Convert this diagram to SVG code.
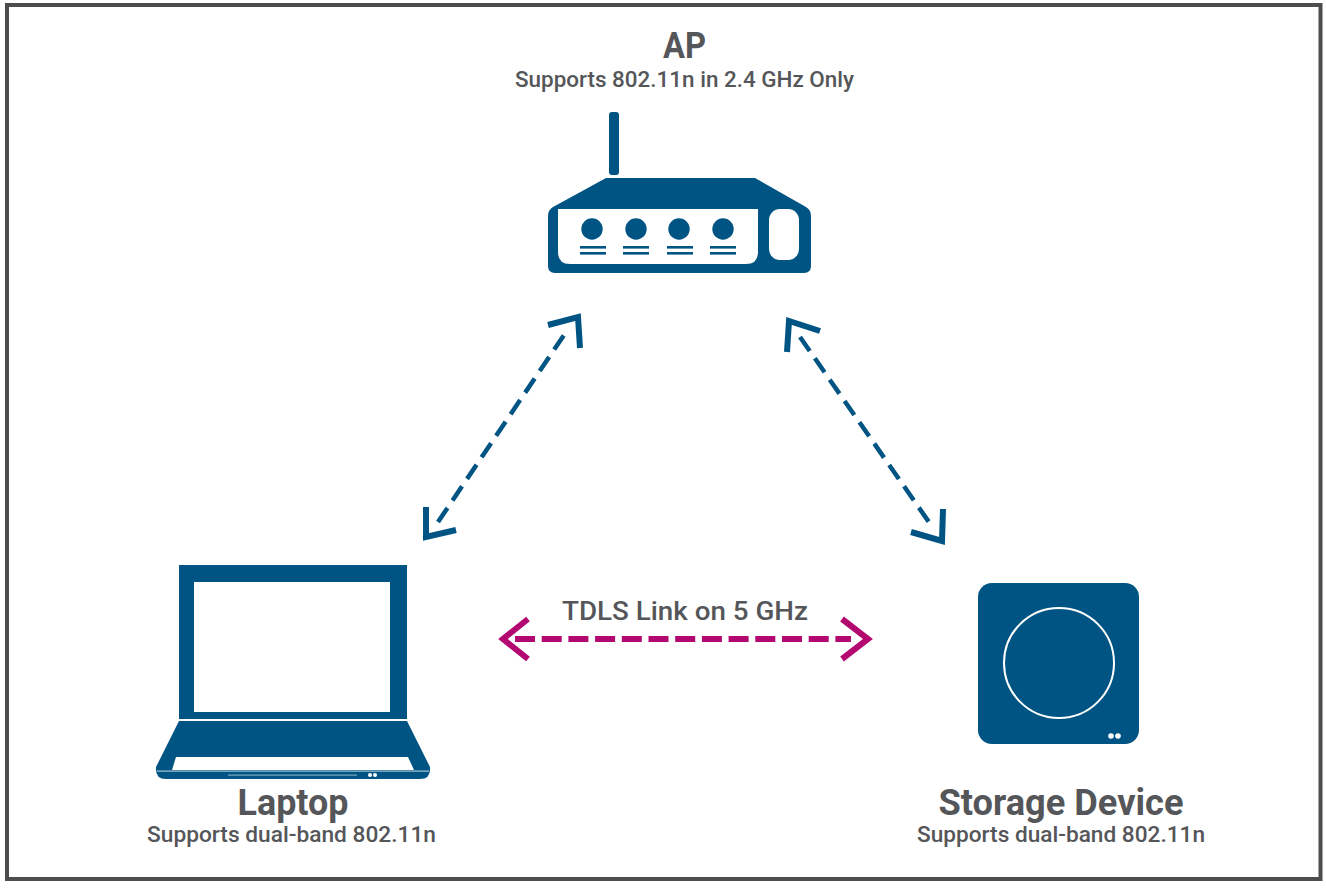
<svg xmlns="http://www.w3.org/2000/svg" width="1326" height="888" viewBox="0 0 1326 888">
<style>
.t{font-family:"Roboto","Liberation Sans",sans-serif;fill:#555659}
.h{font-size:36px;font-weight:700}
.s{font-size:22px;font-weight:500}
.ic{fill:#005483}
.w{fill:#fff}
.blue{fill:none;stroke:#005483;stroke-width:4.500;stroke-dasharray:17 9}
.bh{fill:none;stroke:#005483;stroke-width:6;stroke-linejoin:miter}
.mag{fill:none;stroke:#b3086f;stroke-width:6;stroke-dasharray:20 6.7}
.mh{fill:none;stroke:#b3086f;stroke-width:6}
</style>
<rect width="1326" height="888" fill="#fff"/>
<rect id="frame" x="7" y="5" width="1313.500" height="874" fill="none" stroke="#4d4d4f" stroke-width="4"/>
<g id="ap">
<rect class="ic" x="609" y="112" width="10" height="63" rx="3"/>
<path class="ic" d="M606 178H755L806 207Q811 210 811 216V266Q811 273 804 273H555Q548 273 548 266V216Q548 210 553 207Z"/>
<path class="w" d="M558 209H758V252Q758 264 746 264H570Q558 264 558 252Z"/>
<rect class="w" x="769" y="209" width="30" height="51" rx="11"/>
<g class="ic">
<circle cx="592" cy="229" r="10.7"/><circle cx="636" cy="229" r="10.7"/><circle cx="679" cy="229" r="10.7"/><circle cx="723" cy="229" r="10.7"/>
<rect x="580" y="246" width="26" height="2.6"/><rect x="580" y="252" width="26" height="2.6"/>
<rect x="623" y="246" width="26" height="2.6"/><rect x="623" y="252" width="26" height="2.6"/>
<rect x="667" y="246" width="26" height="2.6"/><rect x="667" y="252" width="26" height="2.6"/>
<rect x="710" y="246" width="26" height="2.6"/><rect x="710" y="252" width="26" height="2.6"/>
</g>
<text class="t h" x="684.500" y="58" text-anchor="middle" textLength="43" lengthAdjust="spacingAndGlyphs">AP</text>
<text class="t s" x="684.500" y="87" text-anchor="middle" textLength="339" lengthAdjust="spacingAndGlyphs">Supports 802.11n in 2.4 GHz Only</text>
</g>
<g id="laptop">
<path class="ic" d="M179 565H407V719H179ZM194 582V712H390V582Z" fill-rule="evenodd"/>
<path class="ic" d="M179 721H407L430 767Q431 779 420 779H166Q155 779 156 767Z"/>
<path class="w" d="M176 757H408L414 770H172Z"/>
<rect x="157" y="770.500" width="272" height="1.200" fill="#a9c6d8"/>
<rect x="228" y="774.500" width="129" height="1.200" fill="#7fa8c1"/>
<circle class="w" cx="370" cy="775" r="2"/><circle class="w" cx="375" cy="775" r="2"/>
<text class="t h" x="293" y="815" text-anchor="middle" textLength="111" lengthAdjust="spacingAndGlyphs">Laptop</text>
<text class="t s" x="291.500" y="842" text-anchor="middle" textLength="289" lengthAdjust="spacingAndGlyphs">Supports dual-band 802.11n</text>
</g>
<g id="storage">
<rect class="ic" x="978" y="583" width="161" height="161" rx="14"/>
<circle cx="1059" cy="663" r="55" fill="none" stroke="#fff" stroke-width="2"/>
<circle class="w" cx="1111" cy="736" r="2.800"/><circle class="w" cx="1118" cy="736" r="2.800"/>
<text class="t h" x="1061" y="815" text-anchor="middle" textLength="245" lengthAdjust="spacingAndGlyphs">Storage Device</text>
<text class="t s" x="1061" y="842" text-anchor="middle" textLength="288" lengthAdjust="spacingAndGlyphs">Supports dual-band 802.11n</text>
</g>
<g id="connectors">
<line class="blue" x1="438" y1="522" x2="566" y2="332"/>
<path class="bh" d="M548 325L578 317L580 348"/>
<path class="bh" d="M426 507L426 537L456 530"/>
<line class="blue" x1="800" y1="337" x2="931" y2="525"/>
<path class="bh" d="M820 331L789 321L787 352"/>
<path class="bh" d="M943 509L942 541L911 532"/>
<line class="mag" x1="515" y1="639" x2="851" y2="639"/>
<path class="mh" d="M528 619L503 639L528 659"/>
<path class="mh" d="M842 619L868 639L842 659"/>
</g>
<text class="t s" x="685" y="620" text-anchor="middle" style="font-size:25px;font-weight:500" textLength="246" lengthAdjust="spacingAndGlyphs">TDLS Link on 5 GHz</text>
</svg>
